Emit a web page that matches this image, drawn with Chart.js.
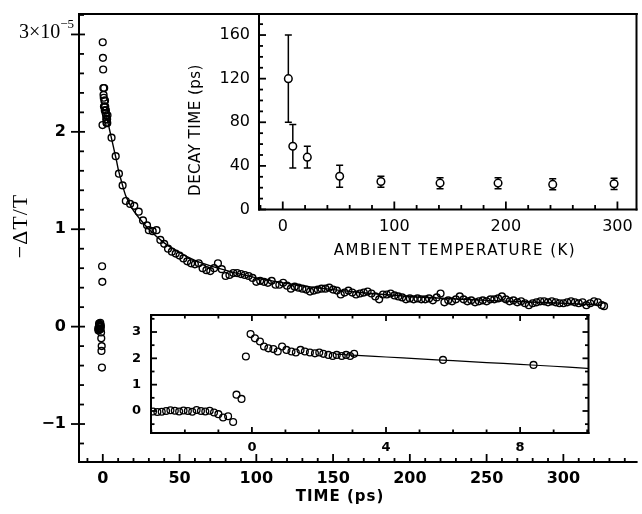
<!DOCTYPE html>
<html><head><meta charset="utf-8">
<script src="https://cdn.jsdelivr.net/npm/chart.js@4.4.1/dist/chart.umd.min.js"></script>
<style>
html,body{margin:0;padding:0;background:#fff;}
#wrap{position:relative;width:642px;height:514px;overflow:hidden;background:#fff;}
canvas{position:absolute;}
</style></head><body>
<div id="wrap">
<canvas id="main" width="642" height="514" style="left:0;top:0;width:642px;height:514px"></canvas>
<canvas id="inset1" width="492" height="270" style="left:150px;top:0;width:492px;height:270px"></canvas>
<canvas id="inset2" width="520" height="160" style="left:100px;top:300px;width:520px;height:160px"></canvas>
</div>
<script>
// ---------- DATA ----------
// early-time points (main plot and lower inset): time in ps, -dT/T in units of 1e-5
const earlyT = [-2.95,-2.82,-2.69,-2.56,-2.43,-2.30,-2.17,-2.04,-1.91,-1.78,-1.65,-1.52,-1.39,-1.26,
  -1.13,-1.00,-0.86,-0.71,-0.56,-0.46,-0.31,-0.18,-0.04,0.09,0.24,0.36,0.49,0.64,0.77,0.90,1.03,
  1.18,1.31,1.45,1.58,1.73,1.88,2.01,2.13,2.28,2.41,2.53,2.68,2.81,2.93,3.05];
const earlyV = [-0.02,-0.04,-0.03,0.00,0.03,0.01,-0.02,0.02,0.00,-0.03,0.04,0.00,-0.02,0.01,
  -0.06,-0.12,-0.25,-0.20,-0.42,0.62,0.46,2.07,2.92,2.76,2.64,2.45,2.38,2.35,2.26,2.45,2.32,
  2.26,2.22,2.32,2.26,2.22,2.19,2.22,2.17,2.13,2.09,2.13,2.09,2.13,2.09,2.17];
// later points of the decay
const lateT = [5.7,8.4,10.5,12.9,15.0,17.8,20.5,23.4,26.2,28.8,
  30,32.5,35,37.5,40,42.5,45,47.5,50,52.5,55,57.5,60,62.5,65,67.5,70,72.5,75,77.5,
  80,82.5,85,87.5,90,92.5,95,97.5,100,102.5,105,107.5,110,112.5,115,117.5,120,122.5,125,127.5,
  130,132.5,135,137.5,140,142.5,145,147.5,150,152.5,155,157.5,160,162.5,165,167.5,170,172.5,175,177.5,
  180,182.5,185,187.5,190,192.5,195,197.5,200,202.5,205,207.5,210,212.5,215,217.5,220,222.5,225,227.5,
  230,232.5,235,237.5,240,242.5,245,247.5,250,252.5,255,257.5,260,262.5,265,267.5,270,272.5,275,277.5,
  280,282.5,285,287.5,290,292.5,295,297.5,300,302.5,305,307.5,310,312.5,315,317.5,320,322.5,325,326.5];
const lateV = [1.94,1.75,1.57,1.45,1.29,1.26,1.24,1.18,1.09,1.04,
  0.99,0.98,0.99,0.89,0.85,0.80,0.77,0.75,0.73,0.70,0.67,0.65,0.64,0.65,0.60,0.58,0.57,0.60,0.65,0.59,
  0.52,0.53,0.55,0.55,0.54,0.53,0.52,0.50,0.46,0.47,0.46,0.45,0.47,0.43,0.43,0.45,0.42,0.39,0.41,0.40,
  0.39,0.38,0.36,0.37,0.38,0.39,0.39,0.40,0.38,0.37,0.33,0.35,0.37,0.35,0.33,0.34,0.35,0.36,0.34,0.31,
  0.28,0.33,0.33,0.34,0.32,0.31,0.30,0.28,0.29,0.28,0.29,0.28,0.28,0.29,0.27,0.30,0.34,0.25,0.27,0.26,
  0.28,0.31,0.28,0.26,0.27,0.25,0.26,0.27,0.26,0.28,0.28,0.29,0.31,0.28,0.26,0.27,0.25,0.26,0.24,0.22,
  0.24,0.25,0.26,0.26,0.25,0.26,0.25,0.24,0.24,0.25,0.26,0.25,0.24,0.25,0.22,0.24,0.26,0.25,0.22,0.21];
// fitted decay curve
const fitT = [2.5,3,4,5,6,7,8,9,10,12,15,20,25,30,40,50,60,75,100,125,150,175,200,250,300,325];
const fitV = [2.16,2.12,2.05,1.98,1.91,1.84,1.77,1.70,1.62,1.50,1.34,1.19,1.09,1.00,0.86,0.76,0.68,0.60,0.50,0.43,0.38,0.34,0.31,0.27,0.24,0.22];
// upper inset: decay time vs ambient temperature
const tempK   = [5,9,22,51,88,141,193,242,297];
const decayPs = [120,58,48,30.5,25.7,24.2,24.2,23,23.6];
const errLow  = [80,38,38,20.5,20.5,19,19,18,18.4];
const errHigh = [160,78,58,40.5,30.6,29.1,29.1,28.2,28.6];
// tick values
const mainXMajor = [0,50,100,150,200,250,300];
const mainXMinor = [-10,10,20,30,40,60,70,80,90,110,120,130,140,160,170,180,190,210,220,230,240,260,270,280,290,310,320,330,340];
const mainYMajor = [-1,0,1,2,3];
const mainYMinor = [-1.2,-0.8,-0.6,-0.4,-0.2,0.2,0.4,0.6,0.8,1.2,1.4,1.6,1.8,2.2,2.4,2.6,2.8,3.2];
const in1XMajor = [0,100,200,300];
const in1XMinor = [-20,20,40,60,80,120,140,160,180,220,240,260,280];
const in1YMajor = [0,40,80,120,160];
const in1YMinor = [10,20,30,50,60,70,90,100,110,130,140,150,170];
const in2XMajor = [0,4,8];
const in2XMinor = [-3,-2,-1,1,2,3,5,6,7,9,10];
const in2YMajor = [0,1,2,3];
const in2YMinor = [-0.5,0.5,1.5,2.5,3.5];

// tick-mark styles per canvas: [majorIn, majorOut, minorIn, mirror]
const TICKSTYLE = {
  main:   {x:[8,0,4,false],   y:[6,8,5,false]},
  inset1: {x:[8,0,4.5,false], y:[7,0,4,false]},
  inset2: {x:[6,0,3.5,true],  y:[6,0,3.5,true]}
};
const TICKVALS = {
  main:   {x:[mainXMajor,mainXMinor], y:[mainYMajor,mainYMinor]},
  inset1: {x:[in1XMajor,in1XMinor],   y:[in1YMajor,in1YMinor]},
  inset2: {x:[in2XMajor,in2XMinor],   y:[in2YMajor,in2YMinor]}
};

// ---------- PLUGINS ----------
const bgPlugin = {
  id:'areaBg',
  beforeDraw(chart, a, o){ if(!o.fill) return; const c=chart.ctx, ca=chart.chartArea;
    c.save(); c.fillStyle=o.fill; c.fillRect(ca.left,ca.top,ca.right-ca.left,ca.bottom-ca.top); c.restore(); }
};
function drawTickMarks(chart){
  const id = chart.canvas.getAttribute('id');
  const st = TICKSTYLE[id], tv = TICKVALS[id];
  if(!st || !tv) return;
  const c=chart.ctx, ca=chart.chartArea;
  c.save(); c.strokeStyle='#000'; c.lineWidth=1.8;
  ['x','y'].forEach(ax=>{
    const s=chart.scales[ax];
    const [mjIn, mjOut, mnIn, mirror] = st[ax];
    const [majors, minors] = tv[ax];
    const one=(v,inL,outL)=>{
      const p=s.getPixelForValue(v);
      if(ax==='x'){
        if(p<ca.left-0.5||p>ca.right+0.5) return;
        c.beginPath(); c.moveTo(p,ca.bottom+outL); c.lineTo(p,ca.bottom-inL); c.stroke();
        if(mirror){ c.beginPath(); c.moveTo(p,ca.top); c.lineTo(p,ca.top+inL); c.stroke(); }
      } else {
        if(p<ca.top-0.5||p>ca.bottom+0.5) return;
        c.beginPath(); c.moveTo(ca.left-outL,p); c.lineTo(ca.left+inL,p); c.stroke();
        if(mirror){ c.beginPath(); c.moveTo(ca.right,p); c.lineTo(ca.right-inL,p); c.stroke(); }
      }
    };
    for(const v of minors) one(v,mnIn,0);
    for(const v of majors) one(v,mjIn,mjOut);
  });
  c.restore();
}
const framePlugin = {
  id:'frame',
  afterDatasetsDraw(chart, a, o){ const c=chart.ctx, ca=chart.chartArea; const sides=o.sides||[];
    c.save(); c.strokeStyle='#000'; c.lineWidth=o.width||2; c.lineCap='square';
    const L=ca.left, R=ca.right, T=ca.top, B=ca.bottom;
    const seg={left:[L,T,L,B],right:[R,T,R,B],top:[L,T,R,T],bottom:[L,B,R,B]};
    sides.forEach(s=>{const p=seg[s]; c.beginPath(); c.moveTo(p[0],p[1]); c.lineTo(p[2],p[3]); c.stroke();});
    c.restore();
    drawTickMarks(chart);
  }
};
const textPlugin = {
  id:'texts',
  afterDraw(chart, a, o){ const c=chart.ctx;
    (o.items||[]).forEach(it=>{
      c.save();
      let y = it.y;
      if(it.yValue!==undefined) y = chart.scales[it.yScale].getPixelForValue(it.yValue);
      c.translate(it.x, y);
      if(it.rotate) c.rotate(it.rotate);
      c.fillStyle='#000'; c.textBaseline='middle';
      if('letterSpacing' in c) c.letterSpacing=(it.spacing||0)+'px';
      if(it.sup){
        c.font=it.font; const w1=c.measureText(it.text).width;
        c.font=it.supFont; const w2=c.measureText(it.sup).width;
        c.textAlign='left';
        c.font=it.font; c.fillText(it.text,-(w1+w2),0);
        c.font=it.supFont; c.fillText(it.sup,-w2,-it.supRaise);
      } else {
        c.font=it.font; c.textAlign=it.align||'center'; c.fillText(it.text,0,0);
      }
      c.restore();
    });
  }
};
const errPlugin = {
  id:'errBars',
  beforeDatasetsDraw(chart, a, o){ if(!o.enabled) return; const c=chart.ctx;
    const xs=chart.scales.x, ys=chart.scales.y;
    c.save(); c.strokeStyle='#000'; c.lineWidth=1.5;
    tempK.forEach((t,i)=>{
      const px=xs.getPixelForValue(t), pl=ys.getPixelForValue(errLow[i]), ph=ys.getPixelForValue(errHigh[i]);
      c.beginPath(); c.moveTo(px,pl); c.lineTo(px,ph);
      c.moveTo(px-3.5,pl); c.lineTo(px+3.5,pl); c.moveTo(px-3.5,ph); c.lineTo(px+3.5,ph); c.stroke();
    });
    c.restore(); }
};
Chart.register(bgPlugin, framePlugin, textPlugin, errPlugin);

const pts = (T,V,f)=>T.map((t,i)=>({x:t,y:V[i]})).filter(p=>!f||f(p));
const minusFmt = v => (v<0?'\u2212'+Math.abs(v):String(v));
const noGrid = {display:false, drawTicks:false};

// ---------- MAIN CHART ----------
new Chart(document.getElementById('main'), {
  type:'scatter',
  data:{datasets:[
    {data:pts(earlyT,earlyV).concat(pts(lateT,lateV)), pointRadius:3.4, pointBorderWidth:1.4,
     borderColor:'#000', backgroundColor:'rgba(0,0,0,0)', showLine:false},
    {data:pts(fitT,fitV), showLine:true, pointRadius:0, borderColor:'#000', borderWidth:1.4,
     cubicInterpolationMode:'monotone'}
  ]},
  options:{
    responsive:false, animation:false, events:[],
    layout:{padding:{top:14,left:0,right:0,bottom:0}},
    plugins:{legend:{display:false}, tooltip:{enabled:false},
      frame:{sides:['left','bottom','top'], width:2},
      texts:{items:[
        {text:'TIME (ps)', x:340, y:497, font:"bold 15px 'DejaVu Sans'", spacing:1},
        {text:'\u2212\u0394T/T', x:21, y:226, rotate:-Math.PI/2, font:"22px 'Liberation Serif'", spacing:1},
        {text:'3\u00d710', sup:'\u22125', x:74, yScale:'y', yValue:3.02, font:"20px 'Liberation Serif'",
         supFont:"13px 'Liberation Serif'", supRaise:8}
      ]}
    },
    scales:{
      x:{type:'linear', min:-15.5, max:347.7, grid:noGrid, border:{display:false},
        afterBuildTicks:s=>{s.ticks=mainXMajor.map(v=>({value:v}));},
        afterFit:s=>{s.height=52; s.paddingLeft=0; s.paddingRight=0;},
        ticks:{padding:7, color:'#000', maxRotation:0, autoSkip:false, font:{family:"'DejaVu Sans'", size:16, weight:'bold'}}},
      y:{type:'linear', min:-1.39, max:3.21, grid:noGrid, border:{display:false},
        afterBuildTicks:s=>{s.ticks=mainYMajor.map(v=>({value:v}));},
        afterFit:s=>{s.width=79; s.paddingTop=0; s.paddingBottom=0;},
        ticks:{padding:13, color:'#000', autoSkip:false, font:{family:"'DejaVu Sans'", size:16, weight:'bold'},
          callback:v=>(v===3?'':minusFmt(v))}}
    }
  }
});

// ---------- UPPER INSET ----------
new Chart(document.getElementById('inset1'), {
  type:'scatter',
  data:{datasets:[
    {data:pts(tempK,decayPs), pointRadius:3.8, pointBorderWidth:1.5, borderColor:'#000', backgroundColor:'#fff', showLine:false}
  ]},
  options:{
    responsive:false, animation:false, events:[],
    layout:{padding:{top:14,left:0,right:1,bottom:0}},
    plugins:{legend:{display:false}, tooltip:{enabled:false},
      areaBg:{fill:'#fff'}, errBars:{enabled:true},
      frame:{sides:['left','bottom','top','right'], width:2},
      texts:{items:[
        {text:'AMBIENT TEMPERATURE (K)', x:305, y:251, font:"15px 'DejaVu Sans'", spacing:1.5},
        {text:'DECAY TIME (ps)', x:46.5, y:130, rotate:-Math.PI/2, font:"15px 'DejaVu Sans'", spacing:0.5}
      ]}
    },
    scales:{
      x:{type:'linear', min:-21.3, max:317.1, grid:noGrid, border:{display:false},
        afterBuildTicks:s=>{s.ticks=in1XMajor.map(v=>({value:v}));},
        afterFit:s=>{s.height=60.5; s.paddingLeft=0; s.paddingRight=0;},
        ticks:{padding:8, color:'#000', maxRotation:0, autoSkip:false, font:{family:"'DejaVu Sans'", size:16}}},
      y:{type:'linear', min:0, max:179.3, grid:noGrid, border:{display:false},
        afterBuildTicks:s=>{s.ticks=in1YMajor.map(v=>({value:v}));},
        afterFit:s=>{s.width=109; s.paddingTop=0; s.paddingBottom=0;},
        ticks:{padding:9, color:'#000', autoSkip:false, font:{family:"'DejaVu Sans'", size:16}}}
    }
  }
});

// ---------- LOWER INSET ----------
new Chart(document.getElementById('inset2'), {
  type:'scatter',
  data:{datasets:[
    {data:pts(earlyT,earlyV).concat(pts(lateT,lateV,p=>p.x<=10)), pointRadius:3.4, pointBorderWidth:1.3,
     borderColor:'#000', backgroundColor:'rgba(0,0,0,0)', showLine:false},
    {data:pts(fitT,fitV,p=>p.x<=12), showLine:true, pointRadius:0, borderColor:'#000', borderWidth:1.2,
     cubicInterpolationMode:'monotone'}
  ]},
  options:{
    responsive:false, animation:false, events:[],
    layout:{padding:{top:15,left:0,right:31.5,bottom:0}},
    plugins:{legend:{display:false}, tooltip:{enabled:false},
      areaBg:{fill:'#fff'},
      frame:{sides:['left','bottom','top','right'], width:2}
    },
    scales:{
      x:{type:'linear', min:-3.01, max:10.04, grid:noGrid, border:{display:false},
        afterBuildTicks:s=>{s.ticks=in2XMajor.map(v=>({value:v}));},
        afterFit:s=>{s.height=27; s.paddingLeft=0; s.paddingRight=0;},
        ticks:{padding:7, color:'#000', maxRotation:0, autoSkip:false, font:{family:"'DejaVu Sans'", size:13, weight:'bold'}}},
      y:{type:'linear', min:-0.836, max:3.646, grid:noGrid, border:{display:false},
        afterBuildTicks:s=>{s.ticks=in2YMajor.map(v=>({value:v}));},
        afterFit:s=>{s.width=51; s.paddingTop=0; s.paddingBottom=0;},
        ticks:{padding:10, color:'#000', autoSkip:false, font:{family:"'DejaVu Sans'", size:13, weight:'bold'}}}
    }
  }
});
</script>
</body></html>
